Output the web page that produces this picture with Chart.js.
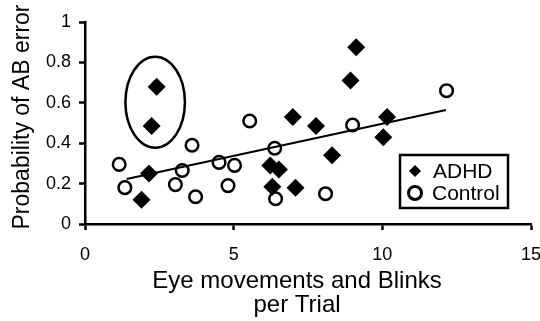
<!DOCTYPE html>
<html>
<head>
<meta charset="utf-8">
<script src="https://cdn.jsdelivr.net/npm/chart.js"></script>
<style>
  html, body { margin: 0; padding: 0; background: #fff; overflow: hidden; }
  #wrap { position: relative; width: 540px; height: 321px; }
</style>
</head>
<body>
<div id="wrap"><canvas id="errChart"></canvas></div>
<script>
"use strict";

// eye movements + blinks per trial vs. probability of AB error
var adhdX = [1.90, 2.15, 2.24, 2.41, 6.23, 6.30, 6.52, 6.99, 7.08, 7.77, 8.31, 8.93, 9.12, 10.03, 10.16];
var adhdY = [0.12, 0.25, 0.485, 0.68, 0.29, 0.185, 0.27, 0.53, 0.18, 0.485, 0.34, 0.71, 0.875, 0.43, 0.53];

var controlX = [1.15, 1.34, 3.04, 3.27, 3.60, 3.72, 4.51, 4.81, 5.03, 5.54, 6.38, 6.41, 8.09, 9.00, 12.16];
var controlY = [0.295, 0.18, 0.195, 0.265, 0.39, 0.135, 0.305, 0.19, 0.29, 0.51, 0.375, 0.125, 0.15, 0.49, 0.66];

// linear fit, drawn between first and last x
var trendX = [1.40, 12.14];
var trendY = [0.223, 0.564];

// ring around the two outlying ADHD points (data units)
var ringCenter = [2.36, 0.603];
var ringRadius = [1.0, 0.225];

var xTicks = [0, 5, 10, 15];
var yTicks = [0, 0.2, 0.4, 0.6, 0.8, 1];

var seriesLabels = ["ADHD", "Control"];
var xTitle = ["Eye movements and Blinks", "per Trial"];
var yTitle = "Probability of AB error";

var FONT = "'Liberation Sans', Arial, Helvetica, sans-serif";

function toPoints(xs, ys) {
    var out = [];
    for (var i = 0; i < xs.length; i++) out.push({ x: xs[i], y: ys[i] });
    return out;
}

var ringPlugin = {
    id: 'ring',
    afterDatasetsDraw: function (chart) {
        var xs = chart.scales.x, ys = chart.scales.y, ctx = chart.ctx;
        var cx = xs.getPixelForValue(ringCenter[0]);
        var cy = ys.getPixelForValue(ringCenter[1]);
        var rx = Math.abs(xs.getPixelForValue(ringCenter[0] + ringRadius[0]) - cx);
        var ry = Math.abs(ys.getPixelForValue(ringCenter[1] + ringRadius[1]) - cy);
        ctx.save();
        ctx.beginPath();
        ctx.ellipse(cx, cy, rx, ry, 0, 0, Math.PI * 2);
        ctx.lineWidth = 2.5;
        ctx.strokeStyle = '#000';
        ctx.stroke();
        ctx.restore();
    }
};

// boxed legend sitting inside the plot, lower right
var boxLegend = {
    id: 'boxLegend',
    afterDraw: function (chart) {
        var ctx = chart.ctx;
        var left = 400, top = 155, w = 108, h = 53;
        ctx.save();
        ctx.lineWidth = 2.5;
        ctx.strokeStyle = '#000';
        ctx.fillStyle = '#fff';
        ctx.fillRect(left, top, w, h);
        ctx.strokeRect(left, top, w, h);

        var rows = [171, 193];
        var marks = [
            { pointStyle: 'rectRot', radius: 6, borderWidth: 0, rotation: 0, fill: '#000', stroke: '#000' },
            { pointStyle: 'circle', radius: 6.5, borderWidth: 3, rotation: 0, fill: 'rgba(0,0,0,0)', stroke: '#000' }
        ];
        for (var i = 0; i < rows.length; i++) {
            var m = marks[i];
            ctx.fillStyle = m.fill;
            ctx.strokeStyle = m.stroke;
            ctx.lineWidth = m.borderWidth;
            Chart.helpers.drawPoint(ctx, m, 415, rows[i]);
        }
        ctx.fillStyle = '#000';
        ctx.font = '21px ' + FONT;
        ctx.textAlign = 'left';
        ctx.textBaseline = 'alphabetic';
        ctx.fillText(seriesLabels[0], 433, 178);
        ctx.fillText(seriesLabels[1], 432, 200);
        ctx.restore();
    }
};

// axis titles: two-line x title a little left of centre, rotated y title
var axisTitles = {
    id: 'axisTitles',
    afterDraw: function (chart) {
        var ctx = chart.ctx;
        ctx.save();
        ctx.fillStyle = '#000';
        ctx.font = '24px ' + FONT;
        ctx.textAlign = 'center';
        ctx.textBaseline = 'alphabetic';
        ctx.fillText(xTitle[0], 297, 288);
        ctx.fillText(xTitle[1], 297, 312);

        ctx.font = '23px ' + FONT;
        ctx.translate(29, 117);
        ctx.rotate(-Math.PI / 2);
        ctx.fillText(yTitle, 0, 0);
        ctx.restore();
    }
};

var ctx = document.getElementById('errChart').getContext('2d');
var chart = new Chart(ctx, {
    type: 'scatter',
    data: {
        datasets: [{
            type: 'line',
            label: 'fit',
            data: toPoints(trendX, trendY),
            borderColor: '#000',
            borderWidth: 2,
            pointRadius: 0,
            fill: false,
            tension: 0
        }, {
            label: seriesLabels[0],
            data: toPoints(adhdX, adhdY),
            pointStyle: 'rectRot',
            pointRadius: 9,
            pointHoverRadius: 9,
            backgroundColor: '#000',
            borderColor: '#000',
            borderWidth: 0
        }, {
            label: seriesLabels[1],
            data: toPoints(controlX, controlY),
            pointStyle: 'circle',
            pointRadius: 6.3,
            pointHoverRadius: 6.3,
            backgroundColor: 'rgba(255,255,255,0)',
            borderColor: '#000',
            borderWidth: 2.5
        }]
    },
    options: {
        responsive: true,
        maintainAspectRatio: false,
        animation: false,
        events: [],
        layout: { padding: { top: 22, right: 7, bottom: 0, left: 0 } },
        plugins: {
            legend: { display: false },
            tooltip: { enabled: false }
        },
        scales: {
            x: {
                type: 'linear',
                min: 0,
                max: 15,
                afterBuildTicks: function (scale) {
                    scale.ticks = xTicks.map(function (v) { return { value: v }; });
                },
                afterFit: function (scale) {
                    scale.height = 97;
                    scale.paddingLeft = 0;
                    scale.paddingRight = 0;
                },
                ticks: {
                    color: '#000',
                    font: { family: FONT, size: 18 },
                    padding: 14,
                    maxRotation: 0,
                    autoSkip: false
                },
                grid: {
                    drawOnChartArea: false,
                    drawTicks: true,
                    tickLength: 6,
                    tickWidth: 2.5,
                    tickColor: '#000'
                },
                border: { display: true, color: '#000', width: 2.5 }
            },
            y: {
                type: 'linear',
                min: 0,
                max: 1,
                afterBuildTicks: function (scale) {
                    scale.ticks = yTicks.map(function (v) { return { value: v }; });
                },
                afterFit: function (scale) {
                    scale.width = 85;
                    scale.paddingTop = 0;
                    scale.paddingBottom = 0;
                },
                ticks: {
                    color: '#000',
                    font: { family: FONT, size: 18 },
                    padding: 8,
                    autoSkip: false,
                    callback: function (v) { return String(+v.toFixed(1)); }
                },
                grid: {
                    drawOnChartArea: false,
                    drawTicks: true,
                    tickLength: 6,
                    tickWidth: 2.5,
                    tickColor: '#000'
                },
                border: { display: true, color: '#000', width: 2.5 }
            }
        }
    },
    plugins: [ringPlugin, boxLegend, axisTitles]
});
</script>
</body>
</html>
